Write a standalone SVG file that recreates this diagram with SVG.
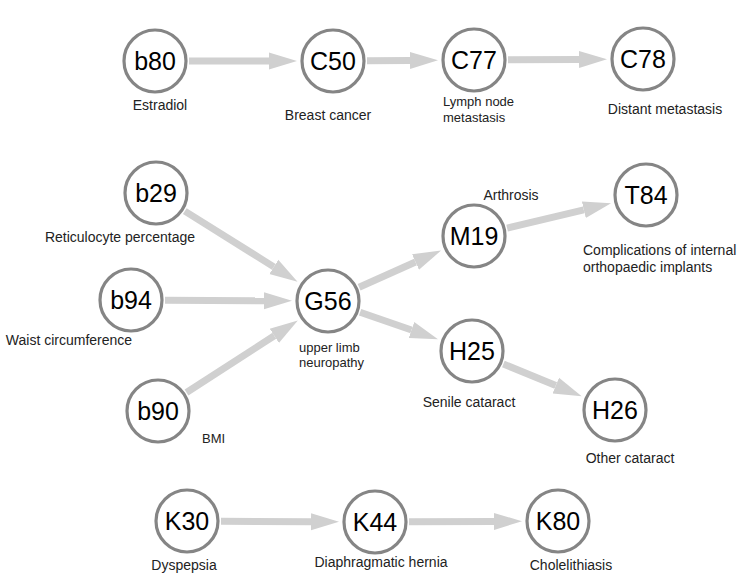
<svg xmlns="http://www.w3.org/2000/svg" width="749" height="575" viewBox="0 0 749 575">
<defs>
<style>
.node circle{fill:#fff;stroke:#858585;stroke-width:3.2}
.node .code{font-family:"Liberation Sans",Arial,sans-serif;font-size:25px;fill:#000;text-anchor:middle}
.lbl{font-family:"Liberation Sans",Arial,sans-serif;font-size:14px;fill:#222}
.lbs{font-family:"Liberation Sans",Arial,sans-serif;font-size:13px;fill:#222}
.mid{text-anchor:middle}
#edges path{stroke:#d0d0d0;stroke-width:7;fill:none;marker-end:url(#arr)}
</style>
<marker id="arr" markerUnits="userSpaceOnUse" markerWidth="30" markerHeight="20" viewBox="0 -10 30 20" refX="0" refY="0" orient="auto">
<path d="M0,-8.5 L28,0 L0,8.5 z" fill="#d0d0d0"/>
</marker>
</defs>
<rect width="749" height="575" fill="#fff"/>
<g id="edges">
<path d="M189,61 L269,61"/>
<path d="M367,60.8 L410,60.5"/>
<path d="M508,59.8 L579,59.4"/>
<path d="M184.8,211.1 L273.8,266.9"/>
<path d="M165,300.2 L264,300.7"/>
<path d="M186.5,392.5 L274.3,335.8"/>
<path d="M359.1,287.2 L415.5,262"/>
<path d="M507.1,228.1 L583.8,209.8"/>
<path d="M360.1,312.2 L411.5,330"/>
<path d="M503.4,364 L555.8,385.6"/>
<path d="M221,521.2 L311,521.7"/>
<path d="M409,521.8 L494,521.4"/>
</g>
<g id="b80" class="node"><circle cx="155" cy="61" r="31"/><text class="code" x="155" y="70">b80</text><text class="lbl mid" x="160" y="110">Estradiol</text></g>
<g id="C50" class="node"><circle cx="333" cy="61" r="31"/><text class="code" x="333" y="70">C50</text><text class="lbl mid" x="328" y="120">Breast cancer</text></g>
<g id="C77" class="node"><circle cx="474" cy="60" r="31"/><text class="code" x="474" y="69">C77</text><text class="lbs" x="443" y="106">Lymph node</text><text class="lbs" x="443" y="122">metastasis</text></g>
<g id="C78" class="node"><circle cx="643" cy="59" r="31"/><text class="code" x="643" y="68">C78</text><text class="lbl mid" x="665" y="114">Distant metastasis</text></g>
<g id="b29" class="node"><circle cx="156" cy="193" r="31"/><text class="code" x="156" y="202">b29</text><text class="lbl mid" x="120" y="242">Reticulocyte percentage</text></g>
<g id="b94" class="node"><circle cx="131" cy="300" r="31"/><text class="code" x="131" y="309">b94</text><text class="lbl mid" x="69" y="345">Waist circumference</text></g>
<g id="b90" class="node"><circle cx="158" cy="411" r="31"/><text class="code" x="158" y="420">b90</text><text class="lbs" x="202" y="443">BMI</text></g>
<g id="G56" class="node"><circle cx="328" cy="301" r="31"/><text class="code" x="328" y="310">G56</text><text class="lbs" x="299" y="352">upper limb</text><text class="lbs" x="299" y="367">neuropathy</text></g>
<g id="M19" class="node"><circle cx="474" cy="236" r="31"/><text class="code" x="474" y="245">M19</text><text class="lbl mid" x="511" y="200">Arthrosis</text></g>
<g id="T84" class="node"><circle cx="646" cy="195" r="31"/><text class="code" x="646" y="204">T84</text><text class="lbl" x="583" y="255">Complications of internal</text><text class="lbl" x="583" y="272">orthopaedic implants</text></g>
<g id="H25" class="node"><circle cx="472" cy="351" r="31"/><text class="code" x="472" y="360">H25</text><text class="lbl mid" x="469" y="407">Senile cataract</text></g>
<g id="H26" class="node"><circle cx="615" cy="410" r="31"/><text class="code" x="615" y="419">H26</text><text class="lbl mid" x="630" y="463">Other cataract</text></g>
<g id="K30" class="node"><circle cx="187" cy="521" r="31"/><text class="code" x="187" y="530">K30</text><text class="lbl mid" x="184" y="570">Dyspepsia</text></g>
<g id="K44" class="node"><circle cx="375" cy="522" r="31"/><text class="code" x="375" y="531">K44</text><text class="lbl mid" x="381" y="567">Diaphragmatic hernia</text></g>
<g id="K80" class="node"><circle cx="558" cy="521" r="31"/><text class="code" x="558" y="530">K80</text><text class="lbl mid" x="571" y="570">Cholelithiasis</text></g>
</svg>
